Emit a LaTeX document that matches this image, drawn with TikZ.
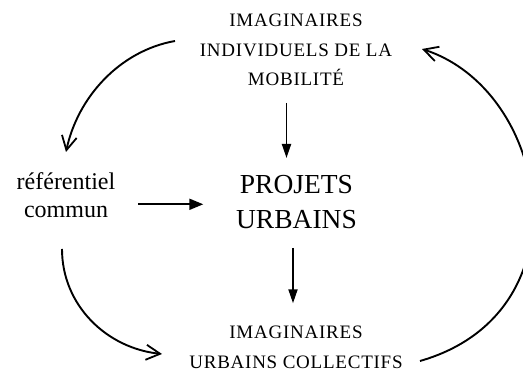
\documentclass[tikz,border=0pt]{standalone}
\usepackage{fontspec}
\setmainfont{Liberation Serif}
\newfontfamily\spacedcaps[LetterSpace=4]{Liberation Serif}
\usetikzlibrary{arrows.meta,calc}
\begin{document}
\begin{tikzpicture}[x=1pt,y=1pt,
  lbl/.style={inner sep=0pt, outer sep=0pt, align=center, anchor=north},
  smallcaps/.style={lbl, font=\spacedcaps\fontsize{19}{#1}\selectfont},
  conn/.style={line width=1.9pt, line cap=butt},
  solidtip/.style={conn, -{Triangle[length=14pt,width=#1]}},
  barbtip/.style={conn, -{Straight Barb[length=14pt,width=15pt,line width=1.8pt]}}
]
\useasboundingbox (0,0) rectangle (523,374);

\node[smallcaps=29.6] (top) at (296,359.8) {IMAGINAIRES\\INDIVIDUELS DE LA\\MOBILITÉ};
\node[lbl, font=\fontsize{27.5}{35}\selectfont] (proj) at (296.5,199) {PROJETS\\URBAINS};
\node[lbl, font=\fontsize{24}{28}\selectfont] (ref) at (66,201) {référentiel\\commun};
\node[smallcaps=30.2] (bot) at (296,48.5) {IMAGINAIRES\\URBAINS COLLECTIFS};

% straight connectors
\draw[solidtip=9pt] ($(top.north)+(-9.5,-88.6)$) -- ($(proj.north)+(-10,17)$);
\draw[solidtip=9pt] ($(proj.north)+(-3.5,-73)$) -- ($(bot.north)+(-3,22.2)$);
\draw[solidtip=11pt] ($(ref.north)+(72.3,-31.3)$) -- ($(proj.north)+(-93.2,-29.3)$);

% curved connectors
\draw[barbtip] ($(top.north)+(-121,-26.8)$)
  to[out=190,in=78,out distance=56pt,in distance=56pt] ($(ref.north)+(0,21)$);
\draw[barbtip] ($(ref.north)+(-4,-76)$)
  to[out=270,in=174,out distance=56pt,in distance=56pt] ($(bot.north)+(-134,-28.5)$);
\draw[barbtip] ($(bot.north)+(124,-35.5)$)
  to[out=16,in=-18,out distance=175pt,in distance=135pt] ($(top.north)+(126,-34.8)$);
\end{tikzpicture}
\end{document}
